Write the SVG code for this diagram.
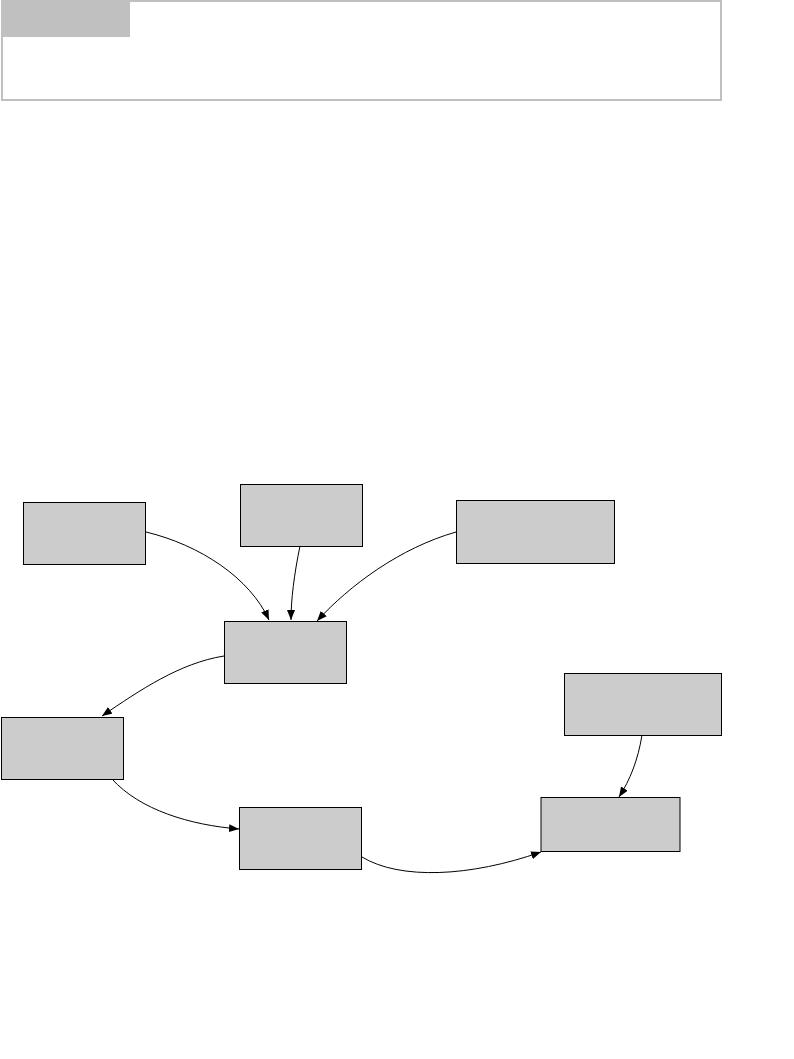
<svg xmlns="http://www.w3.org/2000/svg" width="794" height="1059" viewBox="0 0 794 1059">
<style>
.node{fill:#cccccc;stroke:#000000;stroke-width:1}
.edge{fill:none;stroke:#000000;stroke-width:1;marker-end:url(#arr)}
</style>
<defs>
<marker id="arr" markerUnits="userSpaceOnUse" markerWidth="12" markerHeight="8" refX="10" refY="4" orient="auto">
<path d="M0,0 L10,4 L0,8 Z" fill="#000000"/>
</marker>
</defs>
<rect width="794" height="1059" fill="#ffffff"/>
<g id="panel">
<rect x="2" y="1" width="719" height="99" fill="#ffffff" stroke="#c0c0c0" stroke-width="2"/>
<rect x="2" y="1" width="128" height="36" fill="#c0c0c0"/>
</g>
<g id="connectors">
<path class="edge" d="M146,532 C200,545 250,578 269,620"/>
<path class="edge" d="M300,546 C294,575 291,600 291,620"/>
<path class="edge" d="M456,532 C400,548 350,585 317,621"/>
<path class="edge" d="M224,656 C180,663 140,690 102,716"/>
<path class="edge" d="M112,779 C140,810 190,825 239,829"/>
<path class="edge" d="M362,857 C400,880 470,877 541,852"/>
<path class="edge" d="M642,735 C638,760 630,780 619,797"/>
</g>
<g id="nodeA"><rect class="node" x="23.5" y="502.5" width="122" height="62"/></g>
<g id="nodeB"><rect class="node" x="240.5" y="484.5" width="122" height="62"/></g>
<g id="nodeC"><rect class="node" x="224.5" y="621.5" width="122" height="62"/></g>
<g id="nodeD"><rect class="node" x="456.5" y="500.5" width="158" height="63"/></g>
<g id="nodeE"><rect class="node" x="564.5" y="673.5" width="157" height="62"/></g>
<g id="nodeF"><rect class="node" x="541" y="797.5" width="139" height="54" stroke="#444444"/></g>
<g id="nodeG"><rect class="node" x="1.5" y="717.5" width="122" height="62"/></g>
<g id="nodeH"><rect class="node" x="239.5" y="807.5" width="122" height="62"/></g>
</svg>
